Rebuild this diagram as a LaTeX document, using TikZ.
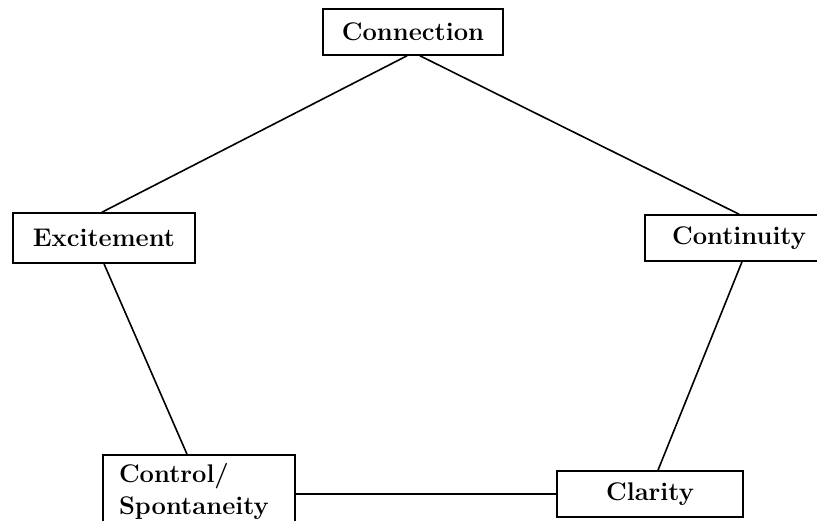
\documentclass[tikz,border=0pt]{standalone}
\usepackage{tikz}
\usetikzlibrary{positioning, calc}

\begin{document}
\begin{tikzpicture}[
    x=1pt, y=-1pt,
    box/.style={draw, line width=1.6pt, inner sep=0pt, font=\fontsize{25.5}{32}\selectfont\bfseries},
    link/.style={line width=1.6pt, line cap=round}
]
\useasboundingbox (0,0) rectangle (817,521);
\clip (0,0) rectangle (817,521);

% === boxes ===
\node[box, minimum width=180pt, minimum height=46pt] (connection) at (413,32) {Connection};
\node[box, minimum width=182pt, minimum height=50pt] (excitement) at (104,238) {Excitement};
\node[box, minimum width=188pt, minimum height=46pt] (continuity) at (739,238) {Continuity};
\node[box, minimum width=192pt, minimum height=72pt, text width=160pt, align=left] (control) at (199,491) {Control/\\Spontaneity};
\node[box, minimum width=186pt, minimum height=46pt] (clarity) at (650,494) {Clarity};

% === links ===
\draw[link] ([xshift=-6pt]connection.south) -- ([xshift=-2pt]excitement.north);
\draw[link] ([xshift=7pt]connection.south) -- (continuity.north);
\draw[link] (excitement.south) -- ([xshift=-12pt]control.north);
\draw[link] ([xshift=3pt]continuity.south) -- ([xshift=8pt]clarity.north);
\draw[link] (control.east |- clarity.west) -- (clarity.west);

\end{tikzpicture}
\end{document}
